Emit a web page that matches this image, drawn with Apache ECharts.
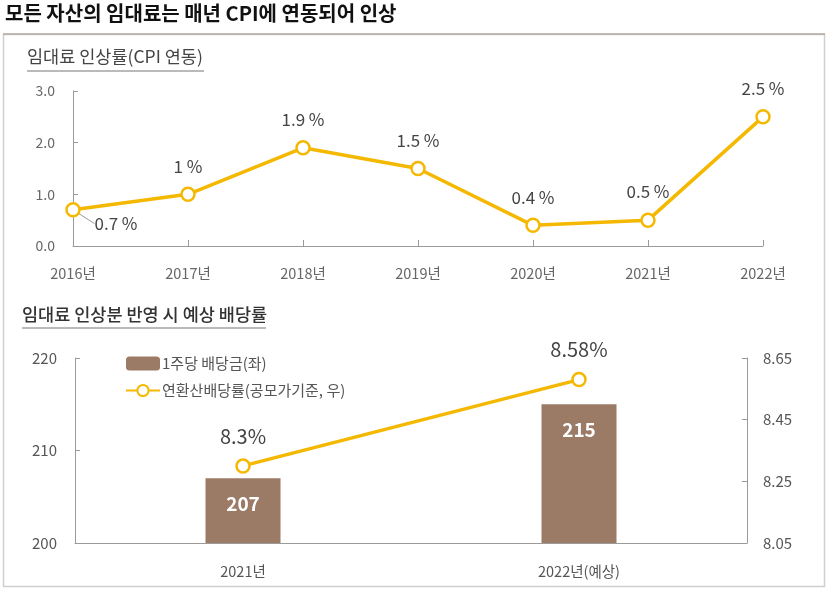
<!DOCTYPE html>
<html><head><meta charset="utf-8">
<script src="https://cdn.jsdelivr.net/npm/echarts@6/dist/echarts.min.js"></script>
<style>html,body{margin:0;padding:0;background:#fff}#c{width:829px;height:594px}</style>
</head><body><div id="c"></div>
<script>
const years = ['2016년','2017년','2018년','2019년','2020년','2021년','2022년'];
const cpiRates = [0.7, 1.0, 1.9, 1.5, 0.4, 0.5, 2.5];
const cpiLabels = ['0.7 %','1 %','1.9 %','1.5 %','0.4 %','0.5 %','2.5 %'];
const divYears = ['2021년','2022년(예상)'];
const dividends = [207, 215];
const divYields = [8.3, 8.58];
const yieldLabels = ['8.3%','8.58%'];

const FONT = '"Noto Sans CJK KR", "Noto Sans", sans-serif';
const GOLD = '#F5B800';
const BROWN = '#9B7A66';
const AXIS = '#9a9a9a';

const cpiData = cpiRates.map((v, i) => i === 0
  ? {value: v, labelLine: {show: true, lineStyle: {color: '#999', width: 1}}}
  : {value: v});

const chart = echarts.init(document.getElementById('c'));
chart.setOption({
  animation: false,
  textStyle: {fontFamily: FONT},
  graphic: [
    {type:'text', left: 5, top: 3, style:{text:'모든 자산의 임대료는 매년 CPI에 연동되어 인상', font:'bold 20px ' + FONT, fill:'#111'}},
    {type:'rect', shape:{x:3.5, y:34.5, width:821, height:552}, style:{fill:'none', stroke:'#cfcfcf', lineWidth:1.5}},
    {type:'line', shape:{x1:3, y1:34, x2:825, y2:34}, style:{stroke:'#b5aaa2', lineWidth:1.5}},
    {type:'text', left: 27, top: 48, style:{text:'임대료 인상률(CPI 연동)', font:'17.5px ' + FONT, fill:'#444'}},
    {type:'line', shape:{x1:27, y1:71, x2:204, y2:71}, style:{stroke:'#777', lineWidth:1.2}},
    {type:'text', left: 22, top: 306, style:{text:'임대료 인상분 반영 시 예상 배당률', font:'500 17.5px ' + FONT, fill:'#333'}},
    {type:'line', shape:{x1:22, y1:328, x2:266, y2:328}, style:{stroke:'#777', lineWidth:1.2}}
  ],
  legend: {
    orient: 'vertical', left: 120, top: 351, itemGap: 12, itemWidth: 34, itemHeight: 14,
    textStyle: {fontSize: 15, color: '#555', fontFamily: FONT, padding: [0, 0, 0, -3]},
    data: ['1주당 배당금(좌)', '연환산배당률(공모가기준, 우)']
  },
  grid: [
    {left: 73, right: 66, top: 91, height: 155},
    {left: 75, right: 82, top: 358, height: 185}
  ],
  xAxis: [
    {gridIndex: 0, type: 'category', data: years, boundaryGap: false,
     axisLine: {lineStyle: {color: AXIS}}, axisTick: {inside: true, length: 6, lineStyle: {color: AXIS}},
     axisLabel: {color: '#666', fontSize: 14.5, margin: 20}},
    {gridIndex: 1, type: 'category', data: divYears,
     axisLine: {lineStyle: {color: AXIS}}, axisTick: {inside: true, length: 6, lineStyle: {color: AXIS}},
     axisLabel: {color: '#555', fontSize: 14.5, margin: 21}}
  ],
  yAxis: [
    {gridIndex: 0, type: 'value', min: 0, max: 3, interval: 1,
     axisLine: {show: true, lineStyle: {color: AXIS}}, axisTick: {show: true, inside: true, length: 5, lineStyle: {color: AXIS}},
     splitLine: {show: false}, axisLabel: {color: '#666', fontSize: 14, margin: 18, formatter: v => v.toFixed(1)}},
    {gridIndex: 1, type: 'value', min: 200, max: 220, interval: 10,
     axisLine: {show: true, lineStyle: {color: AXIS}}, axisTick: {show: true, inside: true, length: 5, lineStyle: {color: AXIS}},
     splitLine: {show: false}, axisLabel: {color: '#555', fontSize: 15, margin: 18}},
    {gridIndex: 1, type: 'value', position: 'right', min: 8.05, max: 8.65, interval: 0.2,
     axisLine: {show: true, lineStyle: {color: AXIS}}, axisTick: {show: true, inside: true, length: 5, lineStyle: {color: AXIS}},
     splitLine: {show: false}, axisLabel: {color: '#555', fontSize: 15, margin: 16, formatter: v => v.toFixed(2)}}
  ],
  series: [
    {type: 'line', xAxisIndex: 0, yAxisIndex: 0, data: cpiData,
     lineStyle: {color: GOLD, width: 3.5}, symbol: 'circle', symbolSize: 13,
     itemStyle: {color: '#fff', borderColor: GOLD, borderWidth: 2.5},
     label: {show: true, position: 'top', distance: 12, fontSize: 17, color: '#444',
       formatter: p => cpiLabels[p.dataIndex]},
     labelLine: {show: false},
     labelLayout: p => p.dataIndex === 0 ? {dx: 43, dy: 42} : {}},
    {name: '1주당 배당금(좌)', type: 'bar', xAxisIndex: 1, yAxisIndex: 1, data: dividends,
     barWidth: 75, itemStyle: {color: BROWN},
     label: {show: true, position: 'insideTop', distance: 16, fontSize: 19, fontWeight: 'bold', color: '#fff'}},
    {name: '연환산배당률(공모가기준, 우)', type: 'line', xAxisIndex: 1, yAxisIndex: 2, data: divYields,
     lineStyle: {color: GOLD, width: 3.5}, symbol: 'circle', symbolSize: 13,
     itemStyle: {color: '#fff', borderColor: GOLD, borderWidth: 2.5},
     label: {show: true, position: 'top', distance: 12, fontSize: 20, color: '#444',
       formatter: p => yieldLabels[p.dataIndex]}}
  ]
});
</script></body></html>
